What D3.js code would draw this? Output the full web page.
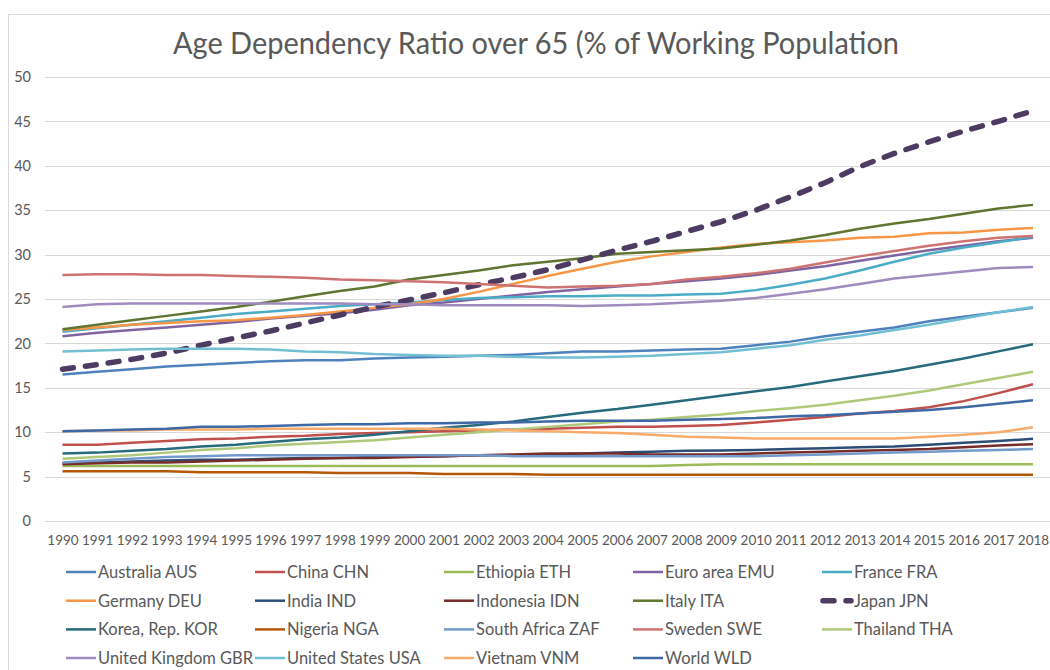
<!DOCTYPE html>
<html><head><meta charset="utf-8">
<script src="https://cdn.jsdelivr.net/npm/d3@7"></script>
<style>body{margin:0;background:#fff}svg{display:block}</style>
</head><body><svg id="c" width="1050" height="670"></svg>
<script>
const years = d3.range(1990, 2019);
const yTicks = [0,5,10,15,20,25,30,35,40,45,50];
const titleText = "Age Dependency Ratio over 65 (% of Working Population";

const aus = [16.5,16.8,17.1,17.4,17.6,17.8,18.0,18.1,18.1,18.3,18.4,18.5,18.6,18.7,18.9,19.1,19.1,19.2,19.3,19.4,19.8,20.2,20.8,21.3,21.8,22.5,23.0,23.5,24.0];
const chn = [8.6,8.6,8.8,9.0,9.2,9.3,9.5,9.6,9.8,9.9,10.0,10.1,10.2,10.3,10.4,10.5,10.6,10.6,10.7,10.8,11.1,11.4,11.7,12.1,12.4,12.8,13.5,14.4,15.4];
const eth = [6.2,6.2,6.2,6.2,6.2,6.2,6.2,6.2,6.2,6.2,6.2,6.2,6.2,6.2,6.2,6.2,6.2,6.2,6.3,6.4,6.4,6.4,6.4,6.4,6.4,6.4,6.4,6.4,6.4];
const emu = [20.8,21.2,21.5,21.8,22.1,22.4,22.8,23.1,23.4,23.8,24.3,24.6,25.0,25.4,25.8,26.1,26.4,26.7,27.0,27.3,27.7,28.2,28.7,29.3,29.9,30.5,31.0,31.5,31.9];
const fra = [21.3,21.7,22.1,22.5,22.9,23.3,23.6,23.9,24.2,24.4,24.6,24.9,25.1,25.2,25.3,25.3,25.4,25.4,25.5,25.6,26.0,26.6,27.3,28.2,29.2,30.1,30.8,31.4,32.0];
const deu = [21.5,21.8,22.1,22.3,22.5,22.6,22.9,23.2,23.6,24.0,24.4,25.0,25.8,26.7,27.6,28.4,29.2,29.8,30.3,30.8,31.2,31.4,31.6,31.9,32.0,32.4,32.5,32.8,33.0];
const ind = [6.5,6.6,6.7,6.8,6.9,6.9,7.0,7.1,7.1,7.2,7.3,7.3,7.4,7.4,7.5,7.6,7.7,7.8,7.9,7.95,8.0,8.1,8.2,8.3,8.4,8.6,8.8,9.0,9.25];
const idn = [6.4,6.5,6.6,6.6,6.7,6.8,6.9,7.0,7.1,7.1,7.2,7.3,7.4,7.5,7.6,7.6,7.6,7.5,7.5,7.5,7.6,7.7,7.8,7.9,8.0,8.1,8.3,8.5,8.65];
const ita = [21.6,22.1,22.6,23.1,23.6,24.1,24.7,25.3,25.9,26.4,27.2,27.7,28.2,28.8,29.2,29.6,30.1,30.3,30.5,30.7,31.1,31.6,32.2,32.9,33.5,34.0,34.6,35.2,35.6];
const jpn = [17.1,17.6,18.2,18.9,19.8,20.6,21.4,22.3,23.2,24.1,24.9,25.7,26.6,27.4,28.3,29.4,30.5,31.5,32.6,33.7,35.0,36.5,38.1,39.9,41.4,42.7,43.9,45.0,46.2];
const kor = [7.6,7.7,7.9,8.1,8.4,8.6,8.9,9.2,9.4,9.7,10.1,10.5,10.8,11.2,11.7,12.2,12.6,13.1,13.6,14.1,14.6,15.1,15.7,16.3,16.9,17.6,18.3,19.1,19.9];
const nga = [5.6,5.6,5.6,5.6,5.5,5.5,5.5,5.5,5.4,5.4,5.4,5.3,5.3,5.3,5.2,5.2,5.2,5.2,5.2,5.2,5.2,5.2,5.2,5.2,5.2,5.2,5.2,5.2,5.2];
const zaf = [6.6,6.8,7.0,7.2,7.3,7.4,7.4,7.4,7.4,7.4,7.4,7.4,7.4,7.3,7.3,7.3,7.3,7.3,7.3,7.3,7.3,7.4,7.5,7.6,7.7,7.8,7.9,8.0,8.1];
const swe = [27.7,27.8,27.8,27.7,27.7,27.6,27.5,27.4,27.2,27.1,27.0,26.9,26.7,26.5,26.3,26.4,26.5,26.7,27.2,27.5,27.9,28.4,29.1,29.8,30.4,31.0,31.5,31.9,32.1];
const tha = [7.0,7.2,7.4,7.7,8.0,8.2,8.5,8.7,8.9,9.1,9.4,9.7,10.0,10.3,10.6,10.9,11.2,11.4,11.7,12.0,12.4,12.7,13.1,13.6,14.1,14.7,15.4,16.1,16.8];
const gbr = [24.1,24.4,24.5,24.5,24.5,24.5,24.5,24.5,24.5,24.4,24.4,24.3,24.3,24.3,24.3,24.2,24.3,24.4,24.6,24.8,25.1,25.6,26.1,26.7,27.3,27.7,28.1,28.5,28.6];
const usa = [19.1,19.2,19.3,19.4,19.4,19.4,19.3,19.1,19.0,18.8,18.7,18.6,18.6,18.5,18.4,18.4,18.5,18.6,18.8,19.0,19.4,19.8,20.4,20.9,21.5,22.1,22.8,23.5,24.1];
const vnm = [10.1,10.2,10.2,10.3,10.3,10.3,10.4,10.4,10.4,10.4,10.4,10.4,10.3,10.2,10.1,10.0,9.9,9.7,9.5,9.4,9.3,9.3,9.3,9.3,9.3,9.5,9.7,10.0,10.55];
const wld = [10.1,10.2,10.3,10.4,10.6,10.6,10.7,10.8,10.9,10.9,11.0,11.0,11.1,11.1,11.2,11.3,11.3,11.3,11.4,11.5,11.6,11.8,11.9,12.1,12.3,12.5,12.8,13.2,13.6];

const seriesNames = ["Australia AUS","China CHN","Ethiopia ETH","Euro area EMU","France FRA","Germany DEU","India IND","Indonesia IDN","Italy ITA","Japan JPN","Korea, Rep. KOR","Nigeria NGA","South Africa ZAF","Sweden SWE","Thailand THA","United Kingdom GBR","United States USA","Vietnam VNM","World WLD"];
const seriesValues = [aus,chn,eth,emu,fra,deu,ind,idn,ita,jpn,kor,nga,zaf,swe,tha,gbr,usa,vnm,wld];
const seriesColors = ["#4F81BD","#C0504D","#9BBB59","#8064A2","#4BACC6","#F79646","#2C4D75","#772C2A","#5F7530","#4D3B62","#276A7C","#B65708","#729ACA","#CD7371","#AFC97A","#9F8BBE","#72BFD3","#F9AB6B","#3F69A5"];

const svg = d3.select("#c");
const FONT = "Lato, 'Open Sans', sans-serif";
const TXT = "#595959";

svg.append("rect").attr("x",8.5).attr("y",14.5).attr("width",1100).attr("height",700)
  .attr("fill","#fff").attr("stroke","#D9D9D9").attr("stroke-width",1);

svg.append("text").attr("x",536).attr("y",54).attr("text-anchor","middle")
  .attr("font-family",FONT).attr("font-size",31).attr("fill",TXT)
  .attr("textLength",726).attr("lengthAdjust","spacingAndGlyphs").text(titleText);

const y = d3.scaleLinear().domain([0,50]).range([521,77]);
const x = d3.scalePoint().domain(years).range([62.5,1033]);

const grid = svg.append("g");
grid.selectAll("line").data(yTicks).join("line")
  .attr("x1",45).attr("x2",1050).attr("y1",d=>Math.round(y(d))+0.5).attr("y2",d=>Math.round(y(d))+0.5)
  .attr("stroke","#D9D9D9").attr("stroke-width",1);

const yAxis = d3.axisLeft(y).tickValues(yTicks).tickSize(0).tickPadding(0);
const ya = svg.append("g").attr("transform","translate(31,0)").call(yAxis);
ya.select(".domain").remove();
ya.selectAll("text").attr("font-family",FONT).attr("font-size",14.5).attr("fill",TXT);

const xAxis = d3.axisBottom(x).tickSize(0).tickPadding(0).tickFormat(d=>String(d));
const xa = svg.append("g").attr("transform","translate(0,535.5)").call(xAxis);
xa.select(".domain").remove();
xa.selectAll("text").attr("font-family",FONT).attr("font-size",13.5).attr("fill",TXT);

const line = d3.line().x((d,i)=>x(years[i])).y(d=>y(d));
const lines = svg.append("g").attr("fill","none");
seriesValues.forEach((vals,i)=>{
  const isJ = seriesNames[i]==="Japan JPN";
  lines.append("path").attr("d",line(vals)).attr("stroke",seriesColors[i])
    .attr("stroke-width",isJ?5.5:2.5).attr("stroke-linejoin","round")
    .attr("stroke-linecap",isJ?"round":"butt")
    .attr("stroke-dasharray",isJ?"11,12":null);
});

const leg = svg.append("g");
const rowsY = [572,600.7,629.4,658];
seriesNames.forEach((name,i)=>{
  const col = i%5, row = Math.floor(i/5);
  const lx = 66 + col*189, ly = rowsY[row];
  const isJ = name==="Japan JPN";
  const g = leg.append("g");
  if(isJ){
    g.append("line").attr("x1",823).attr("x2",851).attr("y1",ly).attr("y2",ly)
      .attr("stroke",seriesColors[i]).attr("stroke-width",5.5).attr("stroke-linecap","round")
      .attr("stroke-dasharray","11,12");
  } else {
    g.append("line").attr("x1",lx).attr("x2",lx+30).attr("y1",ly).attr("y2",ly)
      .attr("stroke",seriesColors[i]).attr("stroke-width",2.5);
  }
  g.append("text").attr("x",lx+32).attr("y",ly+6).attr("font-family",FONT)
    .attr("font-size",16.5).attr("fill",TXT).text(name);
});
</script></body></html>
